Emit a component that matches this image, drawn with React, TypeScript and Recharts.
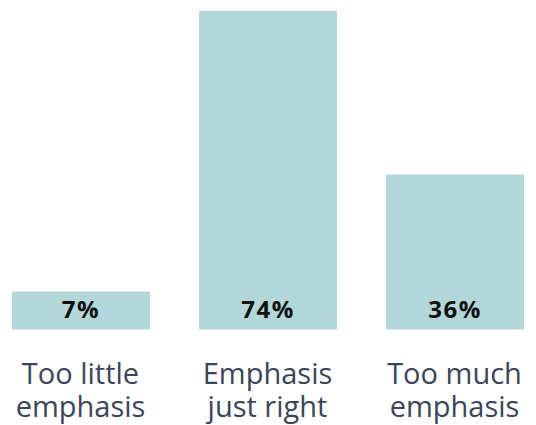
import React from "react";
import { BarChart, Bar, XAxis, YAxis, LabelList } from "recharts";

const categories = ["Too little emphasis", "Emphasis just right", "Too much emphasis"];
const tickLines = [
  ["Too little", "emphasis"],
  ["Emphasis", "just right"],
  ["Too much", "emphasis"],
];
const values = [7, 74, 36];

const data = categories.map((c, i) => ({ name: c, value: values[i], idx: i }));

const BAR_COLOR = "#b3d7d8";
const TEXT_COLOR = "#3b4559";
const FONT = "'Open Sans', 'Noto Sans', sans-serif";

const Tick = (props: any) => {
  const { x, y, index } = props;
  const lines = tickLines[index] || [];
  return (
    <g>
      {lines.map((l, i) => (
        <text
          key={i}
          x={x}
          y={y + 46 + i * 33}
          textAnchor="middle"
          fill={TEXT_COLOR}
          fontSize={29}
          fontFamily={FONT}
        >
          {l}
        </text>
      ))}
    </g>
  );
};

const PctLabel = (props: any) => {
  const { x, y, width, height, value } = props;
  return (
    <text
      x={x + width / 2}
      y={y + height - 21}
      textAnchor="middle"
      dominantBaseline="central"
      fill="#111"
      fontSize={24}
      fontWeight={700}
      letterSpacing={1.5}
      fontFamily={FONT}
    >
      {value + "%"}
    </text>
  );
};

export default function App() {
  return (
    <div style={{ position: "absolute", left: 0, top: 0, width: 536, height: 425, background: "#fff" }}>
      <BarChart
        width={536}
        height={425}
        data={data}
        margin={{ top: 11, right: -12, bottom: 0, left: -13 }}
        barSize={138}
      >
        <XAxis
          dataKey="name"
          axisLine={false}
          tickLine={false}
          height={95.5}
          interval={0}
          tick={<Tick />}
        />
        <YAxis hide domain={[0, 74]} />
        <Bar dataKey="value" fill={BAR_COLOR} isAnimationActive={false} minPointSize={38}>
          <LabelList dataKey="value" content={<PctLabel />} />
        </Bar>
      </BarChart>
    </div>
  );
}
